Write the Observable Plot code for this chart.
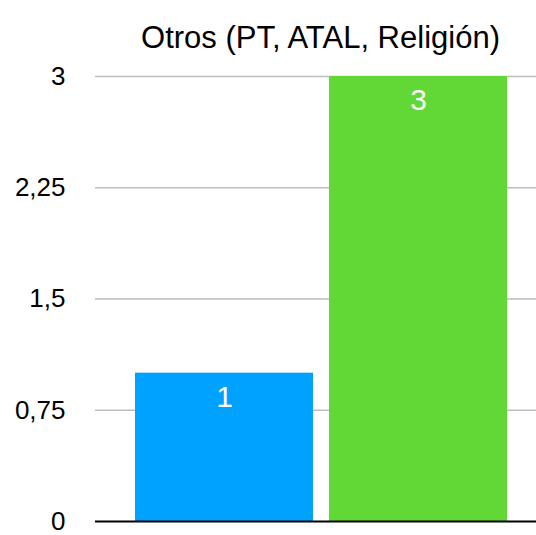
<!DOCTYPE html>
<html>
<head>
<meta charset="utf-8">
<script src="https://cdn.jsdelivr.net/npm/d3@7"></script>
<script src="https://cdn.jsdelivr.net/npm/@observablehq/plot@0.6"></script>
<style>
  html, body { margin: 0; padding: 0; background: #fff; }
  #chart svg { display: block; }
</style>
</head>
<body>
<div id="chart"></div>
<script>
const title = "Otros (PT, ATAL, Religión)";
const categories = ["Serie 1", "Serie 2"];
const values = [1, 3];
const barColors = ["#00a2ff", "#61d836"];
const yTicks = [0, 0.75, 1.5, 2.25, 3];

const data = categories.map((c, i) => ({ category: c, value: values[i] }));
const fmt = v => String(v).replace(".", ",");
const font = "'Liberation Sans', Arial, Helvetica, sans-serif";

const chart = Plot.plot({
  width: 536,
  height: 535,
  marginTop: 76,
  marginBottom: 14,
  marginLeft: 95,
  marginRight: 0,
  style: { fontFamily: font, background: "#fff", overflow: "visible" },
  x: { domain: categories, range: [134, 508], paddingInner: 0.082, paddingOuter: 0, axis: null },
  y: { domain: [0, 3], axis: null },
  color: { domain: categories, range: barColors },
  marks: [
    Plot.ruleY(yTicks.filter(t => t !== 0), { stroke: "#bdbdbd", strokeWidth: 1.5 }),
    Plot.barY(data, { x: "category", y: "value", fill: "category" }),
    Plot.ruleY([0], { stroke: "#000", strokeWidth: 2 }),
    Plot.axisY({
      ticks: yTicks,
      tickFormat: fmt,
      tickSize: 0,
      tickPadding: 30,
      textAnchor: "end",
      fontSize: 26,
      fill: "#000",
      label: null
    }),
    Plot.text(data, {
      x: "category",
      y: "value",
      text: d => fmt(d.value),
      fill: "#fff",
      fontSize: 30,
      dy: 24
    }),
    Plot.text([title], {
      frameAnchor: "top",
      text: d => d,
      dy: -51,
      dx: 4.5,
      fontSize: 31,
      fill: "#000"
    })
  ]
});

document.getElementById("chart").appendChild(chart);
</script>
</body>
</html>
